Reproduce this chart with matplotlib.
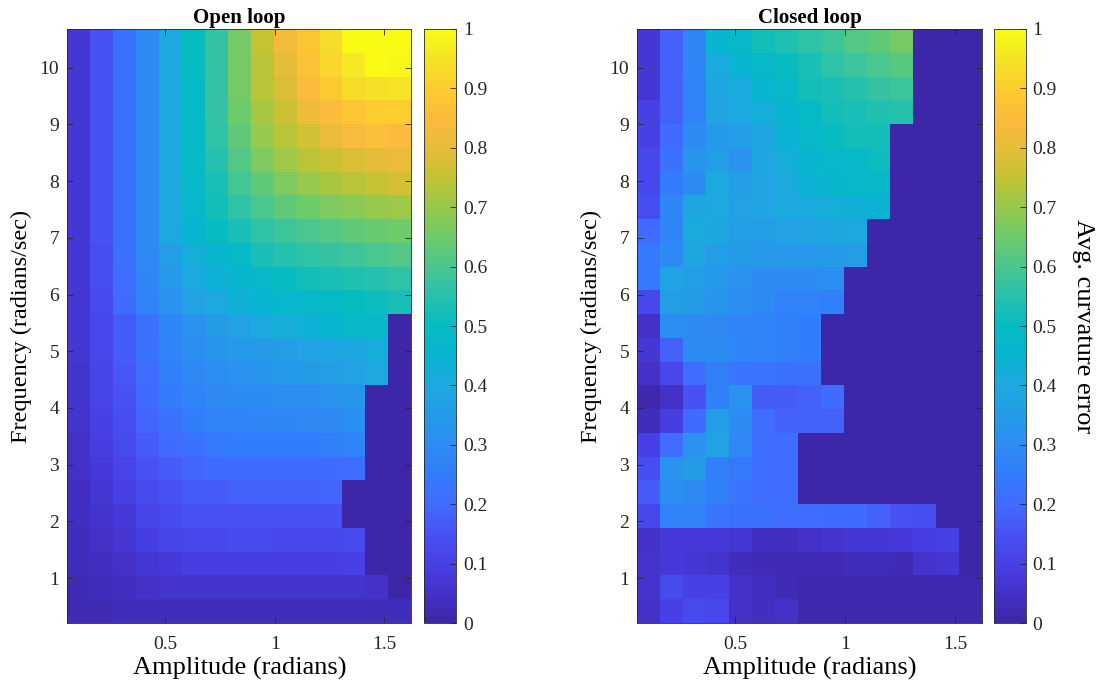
import numpy as np
import matplotlib
matplotlib.use("Agg")
import matplotlib.pyplot as plt
from matplotlib.colors import LinearSegmentedColormap

plt.rcParams['font.family'] = ['Liberation Serif', 'DejaVu Serif']

# amplitude (radians) and frequency (radians/sec) at the cell centres
amplitude = [0.105, 0.209, 0.314, 0.419, 0.524, 0.628, 0.733, 0.838, 0.942,
             1.047, 1.152, 1.257, 1.361, 1.466, 1.571]
frequency = [0.419, 0.838, 1.257, 1.676, 2.094, 2.513, 2.932, 3.351, 3.770,
             4.189, 4.608, 5.027, 5.445, 5.864, 6.283, 6.702, 7.121, 7.540,
             7.959, 8.378, 8.796, 9.215, 9.634, 10.053, 10.472]

# avg. curvature error, rows = frequency (low -> high), cols = amplitude
open_loop = [
    [0.02, 0.02, 0.03, 0.03, 0.03, 0.03, 0.03, 0.03, 0.03, 0.03, 0.03, 0.03, 0.03, 0.03, 0.03],
    [0.02, 0.03, 0.04, 0.05, 0.06, 0.06, 0.06, 0.06, 0.06, 0.06, 0.06, 0.06, 0.06, 0.05, 0.00],
    [0.03, 0.04, 0.05, 0.07, 0.08, 0.09, 0.09, 0.09, 0.09, 0.09, 0.09, 0.09, 0.10, 0.00, 0.00],
    [0.03, 0.05, 0.07, 0.09, 0.11, 0.12, 0.12, 0.13, 0.13, 0.12, 0.12, 0.12, 0.13, 0.00, 0.00],
    [0.04, 0.06, 0.08, 0.11, 0.13, 0.15, 0.15, 0.15, 0.15, 0.15, 0.15, 0.15, 0.00, 0.00, 0.00],
    [0.04, 0.07, 0.10, 0.13, 0.15, 0.17, 0.17, 0.18, 0.18, 0.18, 0.18, 0.19, 0.00, 0.00, 0.00],
    [0.05, 0.08, 0.11, 0.15, 0.17, 0.19, 0.20, 0.20, 0.20, 0.20, 0.20, 0.20, 0.21, 0.00, 0.00],
    [0.05, 0.09, 0.13, 0.17, 0.20, 0.22, 0.24, 0.25, 0.25, 0.25, 0.25, 0.26, 0.27, 0.00, 0.00],
    [0.06, 0.10, 0.14, 0.19, 0.22, 0.25, 0.27, 0.27, 0.28, 0.28, 0.29, 0.29, 0.31, 0.00, 0.00],
    [0.06, 0.11, 0.15, 0.20, 0.25, 0.27, 0.29, 0.30, 0.30, 0.31, 0.31, 0.32, 0.33, 0.00, 0.00],
    [0.06, 0.11, 0.16, 0.21, 0.26, 0.29, 0.31, 0.32, 0.33, 0.34, 0.35, 0.36, 0.37, 0.40, 0.00],
    [0.07, 0.12, 0.17, 0.22, 0.27, 0.31, 0.33, 0.34, 0.35, 0.36, 0.37, 0.38, 0.39, 0.42, 0.00],
    [0.07, 0.12, 0.17, 0.22, 0.28, 0.32, 0.35, 0.37, 0.40, 0.42, 0.43, 0.45, 0.47, 0.48, 0.00],
    [0.07, 0.13, 0.20, 0.27, 0.32, 0.37, 0.40, 0.43, 0.45, 0.47, 0.48, 0.49, 0.50, 0.51, 0.53],
    [0.07, 0.14, 0.21, 0.28, 0.34, 0.40, 0.43, 0.46, 0.48, 0.50, 0.52, 0.53, 0.54, 0.55, 0.56],
    [0.07, 0.14, 0.22, 0.29, 0.36, 0.42, 0.46, 0.49, 0.53, 0.55, 0.56, 0.57, 0.58, 0.60, 0.61],
    [0.07, 0.15, 0.22, 0.30, 0.40, 0.45, 0.50, 0.53, 0.56, 0.58, 0.60, 0.61, 0.63, 0.64, 0.65],
    [0.07, 0.15, 0.22, 0.30, 0.40, 0.47, 0.52, 0.56, 0.60, 0.63, 0.65, 0.67, 0.68, 0.70, 0.71],
    [0.07, 0.15, 0.22, 0.30, 0.40, 0.48, 0.53, 0.59, 0.63, 0.67, 0.70, 0.72, 0.74, 0.75, 0.77],
    [0.07, 0.15, 0.22, 0.30, 0.40, 0.49, 0.55, 0.61, 0.67, 0.71, 0.74, 0.76, 0.78, 0.80, 0.81],
    [0.07, 0.15, 0.22, 0.30, 0.40, 0.49, 0.56, 0.63, 0.70, 0.74, 0.77, 0.81, 0.84, 0.86, 0.85],
    [0.07, 0.15, 0.22, 0.30, 0.40, 0.49, 0.57, 0.65, 0.72, 0.76, 0.82, 0.85, 0.88, 0.90, 0.90],
    [0.07, 0.15, 0.22, 0.30, 0.40, 0.49, 0.57, 0.66, 0.74, 0.78, 0.85, 0.89, 0.93, 0.94, 0.95],
    [0.07, 0.15, 0.22, 0.30, 0.40, 0.50, 0.57, 0.66, 0.74, 0.80, 0.87, 0.92, 0.96, 1.00, 0.99],
    [0.07, 0.15, 0.22, 0.30, 0.40, 0.50, 0.57, 0.66, 0.75, 0.83, 0.88, 0.93, 1.00, 1.00, 1.00],
]

closed_loop = [
    [0.05, 0.10, 0.13, 0.12, 0.05, 0.04, 0.05, 0.01, 0.01, 0.01, 0.01, 0.01, 0.01, 0.01, 0.01],
    [0.06, 0.13, 0.10, 0.10, 0.05, 0.04, 0.02, 0.01, 0.01, 0.01, 0.01, 0.01, 0.01, 0.01, 0.01],
    [0.06, 0.08, 0.07, 0.06, 0.03, 0.02, 0.02, 0.02, 0.02, 0.03, 0.03, 0.02, 0.06, 0.07, 0.00],
    [0.05, 0.08, 0.08, 0.08, 0.07, 0.04, 0.04, 0.05, 0.06, 0.07, 0.07, 0.08, 0.09, 0.10, 0.00],
    [0.12, 0.27, 0.27, 0.23, 0.22, 0.22, 0.21, 0.21, 0.20, 0.20, 0.18, 0.15, 0.14, 0.00, 0.00],
    [0.17, 0.31, 0.29, 0.26, 0.23, 0.21, 0.21, 0.00, 0.00, 0.00, 0.00, 0.00, 0.00, 0.00, 0.00],
    [0.14, 0.32, 0.35, 0.26, 0.24, 0.21, 0.21, 0.00, 0.00, 0.00, 0.00, 0.00, 0.00, 0.00, 0.00],
    [0.10, 0.21, 0.32, 0.37, 0.29, 0.21, 0.21, 0.00, 0.00, 0.00, 0.00, 0.00, 0.00, 0.00, 0.00],
    [0.03, 0.09, 0.20, 0.36, 0.30, 0.21, 0.18, 0.18, 0.18, 0.00, 0.00, 0.00, 0.00, 0.00, 0.00],
    [0.01, 0.05, 0.15, 0.26, 0.32, 0.17, 0.17, 0.18, 0.20, 0.00, 0.00, 0.00, 0.00, 0.00, 0.00],
    [0.05, 0.12, 0.21, 0.26, 0.23, 0.23, 0.22, 0.22, 0.00, 0.00, 0.00, 0.00, 0.00, 0.00, 0.00],
    [0.07, 0.18, 0.30, 0.30, 0.28, 0.27, 0.26, 0.25, 0.00, 0.00, 0.00, 0.00, 0.00, 0.00, 0.00],
    [0.05, 0.31, 0.30, 0.29, 0.27, 0.27, 0.26, 0.25, 0.00, 0.00, 0.00, 0.00, 0.00, 0.00, 0.00],
    [0.12, 0.36, 0.35, 0.33, 0.31, 0.29, 0.27, 0.27, 0.26, 0.00, 0.00, 0.00, 0.00, 0.00, 0.00],
    [0.24, 0.38, 0.36, 0.34, 0.32, 0.30, 0.30, 0.30, 0.31, 0.00, 0.00, 0.00, 0.00, 0.00, 0.00],
    [0.24, 0.30, 0.39, 0.36, 0.35, 0.34, 0.34, 0.34, 0.35, 0.36, 0.00, 0.00, 0.00, 0.00, 0.00],
    [0.20, 0.28, 0.41, 0.39, 0.36, 0.36, 0.37, 0.38, 0.39, 0.40, 0.00, 0.00, 0.00, 0.00, 0.00],
    [0.14, 0.28, 0.39, 0.40, 0.37, 0.38, 0.40, 0.41, 0.42, 0.43, 0.44, 0.00, 0.00, 0.00, 0.00],
    [0.12, 0.25, 0.30, 0.40, 0.36, 0.38, 0.40, 0.44, 0.46, 0.47, 0.47, 0.00, 0.00, 0.00, 0.00],
    [0.12, 0.22, 0.33, 0.36, 0.32, 0.39, 0.42, 0.46, 0.47, 0.48, 0.51, 0.00, 0.00, 0.00, 0.00],
    [0.10, 0.20, 0.30, 0.34, 0.36, 0.39, 0.44, 0.47, 0.50, 0.52, 0.52, 0.00, 0.00, 0.00, 0.00],
    [0.10, 0.18, 0.27, 0.38, 0.40, 0.42, 0.46, 0.49, 0.52, 0.53, 0.54, 0.55, 0.00, 0.00, 0.00],
    [0.07, 0.18, 0.27, 0.39, 0.41, 0.46, 0.48, 0.52, 0.53, 0.55, 0.57, 0.58, 0.00, 0.00, 0.00],
    [0.07, 0.18, 0.28, 0.41, 0.45, 0.48, 0.50, 0.53, 0.56, 0.58, 0.60, 0.62, 0.00, 0.00, 0.00],
    [0.07, 0.18, 0.28, 0.45, 0.47, 0.52, 0.54, 0.56, 0.58, 0.61, 0.63, 0.66, 0.00, 0.00, 0.00],
]

titles = ["Open loop", "Closed loop"]
cbar_ticks = [0, 0.1, 0.2, 0.3, 0.4, 0.5, 0.6, 0.7, 0.8, 0.9, 1]
cbar_labels = ["0", "0.1", "0.2", "0.3", "0.4", "0.5", "0.6", "0.7", "0.8", "0.9", "1"]

# MATLAB parula look-alike
parula = LinearSegmentedColormap.from_list("parula", [
    (0.00, (0.243, 0.150, 0.660)),
    (0.05, (0.263, 0.195, 0.790)),
    (0.10, (0.278, 0.255, 0.900)),
    (0.15, (0.281, 0.323, 0.958)),
    (0.20, (0.255, 0.420, 0.997)),
    (0.25, (0.196, 0.490, 0.985)),
    (0.30, (0.176, 0.550, 0.952)),
    (0.35, (0.146, 0.609, 0.908)),
    (0.40, (0.111, 0.664, 0.876)),
    (0.45, (0.030, 0.708, 0.816)),
    (0.50, (0.020, 0.735, 0.760)),
    (0.55, (0.150, 0.755, 0.680)),
    (0.60, (0.290, 0.775, 0.560)),
    (0.65, (0.430, 0.795, 0.420)),
    (0.70, (0.590, 0.785, 0.300)),
    (0.75, (0.760, 0.765, 0.200)),
    (0.80, (0.900, 0.740, 0.220)),
    (0.85, (0.990, 0.730, 0.240)),
    (0.90, (0.990, 0.800, 0.180)),
    (0.95, (0.960, 0.890, 0.150)),
    (1.00, (0.977, 0.984, 0.081)),
])


def edges(c):
    c = np.asarray(c)
    mid = (c[1:] + c[:-1]) / 2
    return np.concatenate([[c[0] - (c[1] - c[0]) / 2], mid, [c[-1] + (c[-1] - c[-2]) / 2]])


xe = edges(amplitude)
ye = edges(frequency)
axcol = '#262626'

fig = plt.figure(figsize=(11.04, 6.92), dpi=100)
ax_pos = [[0.061, 0.0997, 0.3116, 0.8584], [0.5773, 0.0997, 0.3122, 0.8584]]
cb_pos = [[0.3843, 0.0997, 0.0287, 0.8584], [0.9006, 0.0997, 0.0284, 0.8584]]

for i, data in enumerate([open_loop, closed_loop]):
    ax = fig.add_axes(ax_pos[i])
    mesh = ax.pcolormesh(xe, ye, np.array(data), cmap=parula, vmin=0, vmax=1)
    ax.set_xlim(xe[0], xe[-1])
    ax.set_ylim(ye[0], ye[-1])
    ax.set_xticks([0.5, 1, 1.5])
    ax.set_xticklabels(["0.5", "1", "1.5"])
    ax.set_yticks(range(1, 11))
    ax.tick_params(direction='in', top=True, right=True, length=4, width=0.6,
                   labelsize=14, colors=axcol, labelcolor='#262626', pad=6)
    ax.tick_params(axis='x', pad=9)
    for s in ax.spines.values():
        s.set_color(axcol)
        s.set_linewidth(0.6)
    ax.set_title(titles[i], fontsize=15, fontweight='bold', pad=4)
    ax.set_xlabel("Amplitude (radians)", fontsize=19, labelpad=3)
    ax.set_ylabel("Frequency (radians/sec)", fontsize=17.5, labelpad=5)

    cax = fig.add_axes(cb_pos[i])
    cb = fig.colorbar(mesh, cax=cax)
    cb.set_ticks(cbar_ticks)
    cb.set_ticklabels(cbar_labels)
    cax.tick_params(direction='in', length=4, width=0.6, labelsize=14, colors=axcol,
                    labelcolor='#262626', pad=5)
    cb.outline.set_edgecolor(axcol)
    cb.outline.set_linewidth(0.6)
    if i == 1:
        cb.set_label("Avg. curvature error", fontsize=19, rotation=270, labelpad=27)

fig.savefig("out.png", dpi=100)
